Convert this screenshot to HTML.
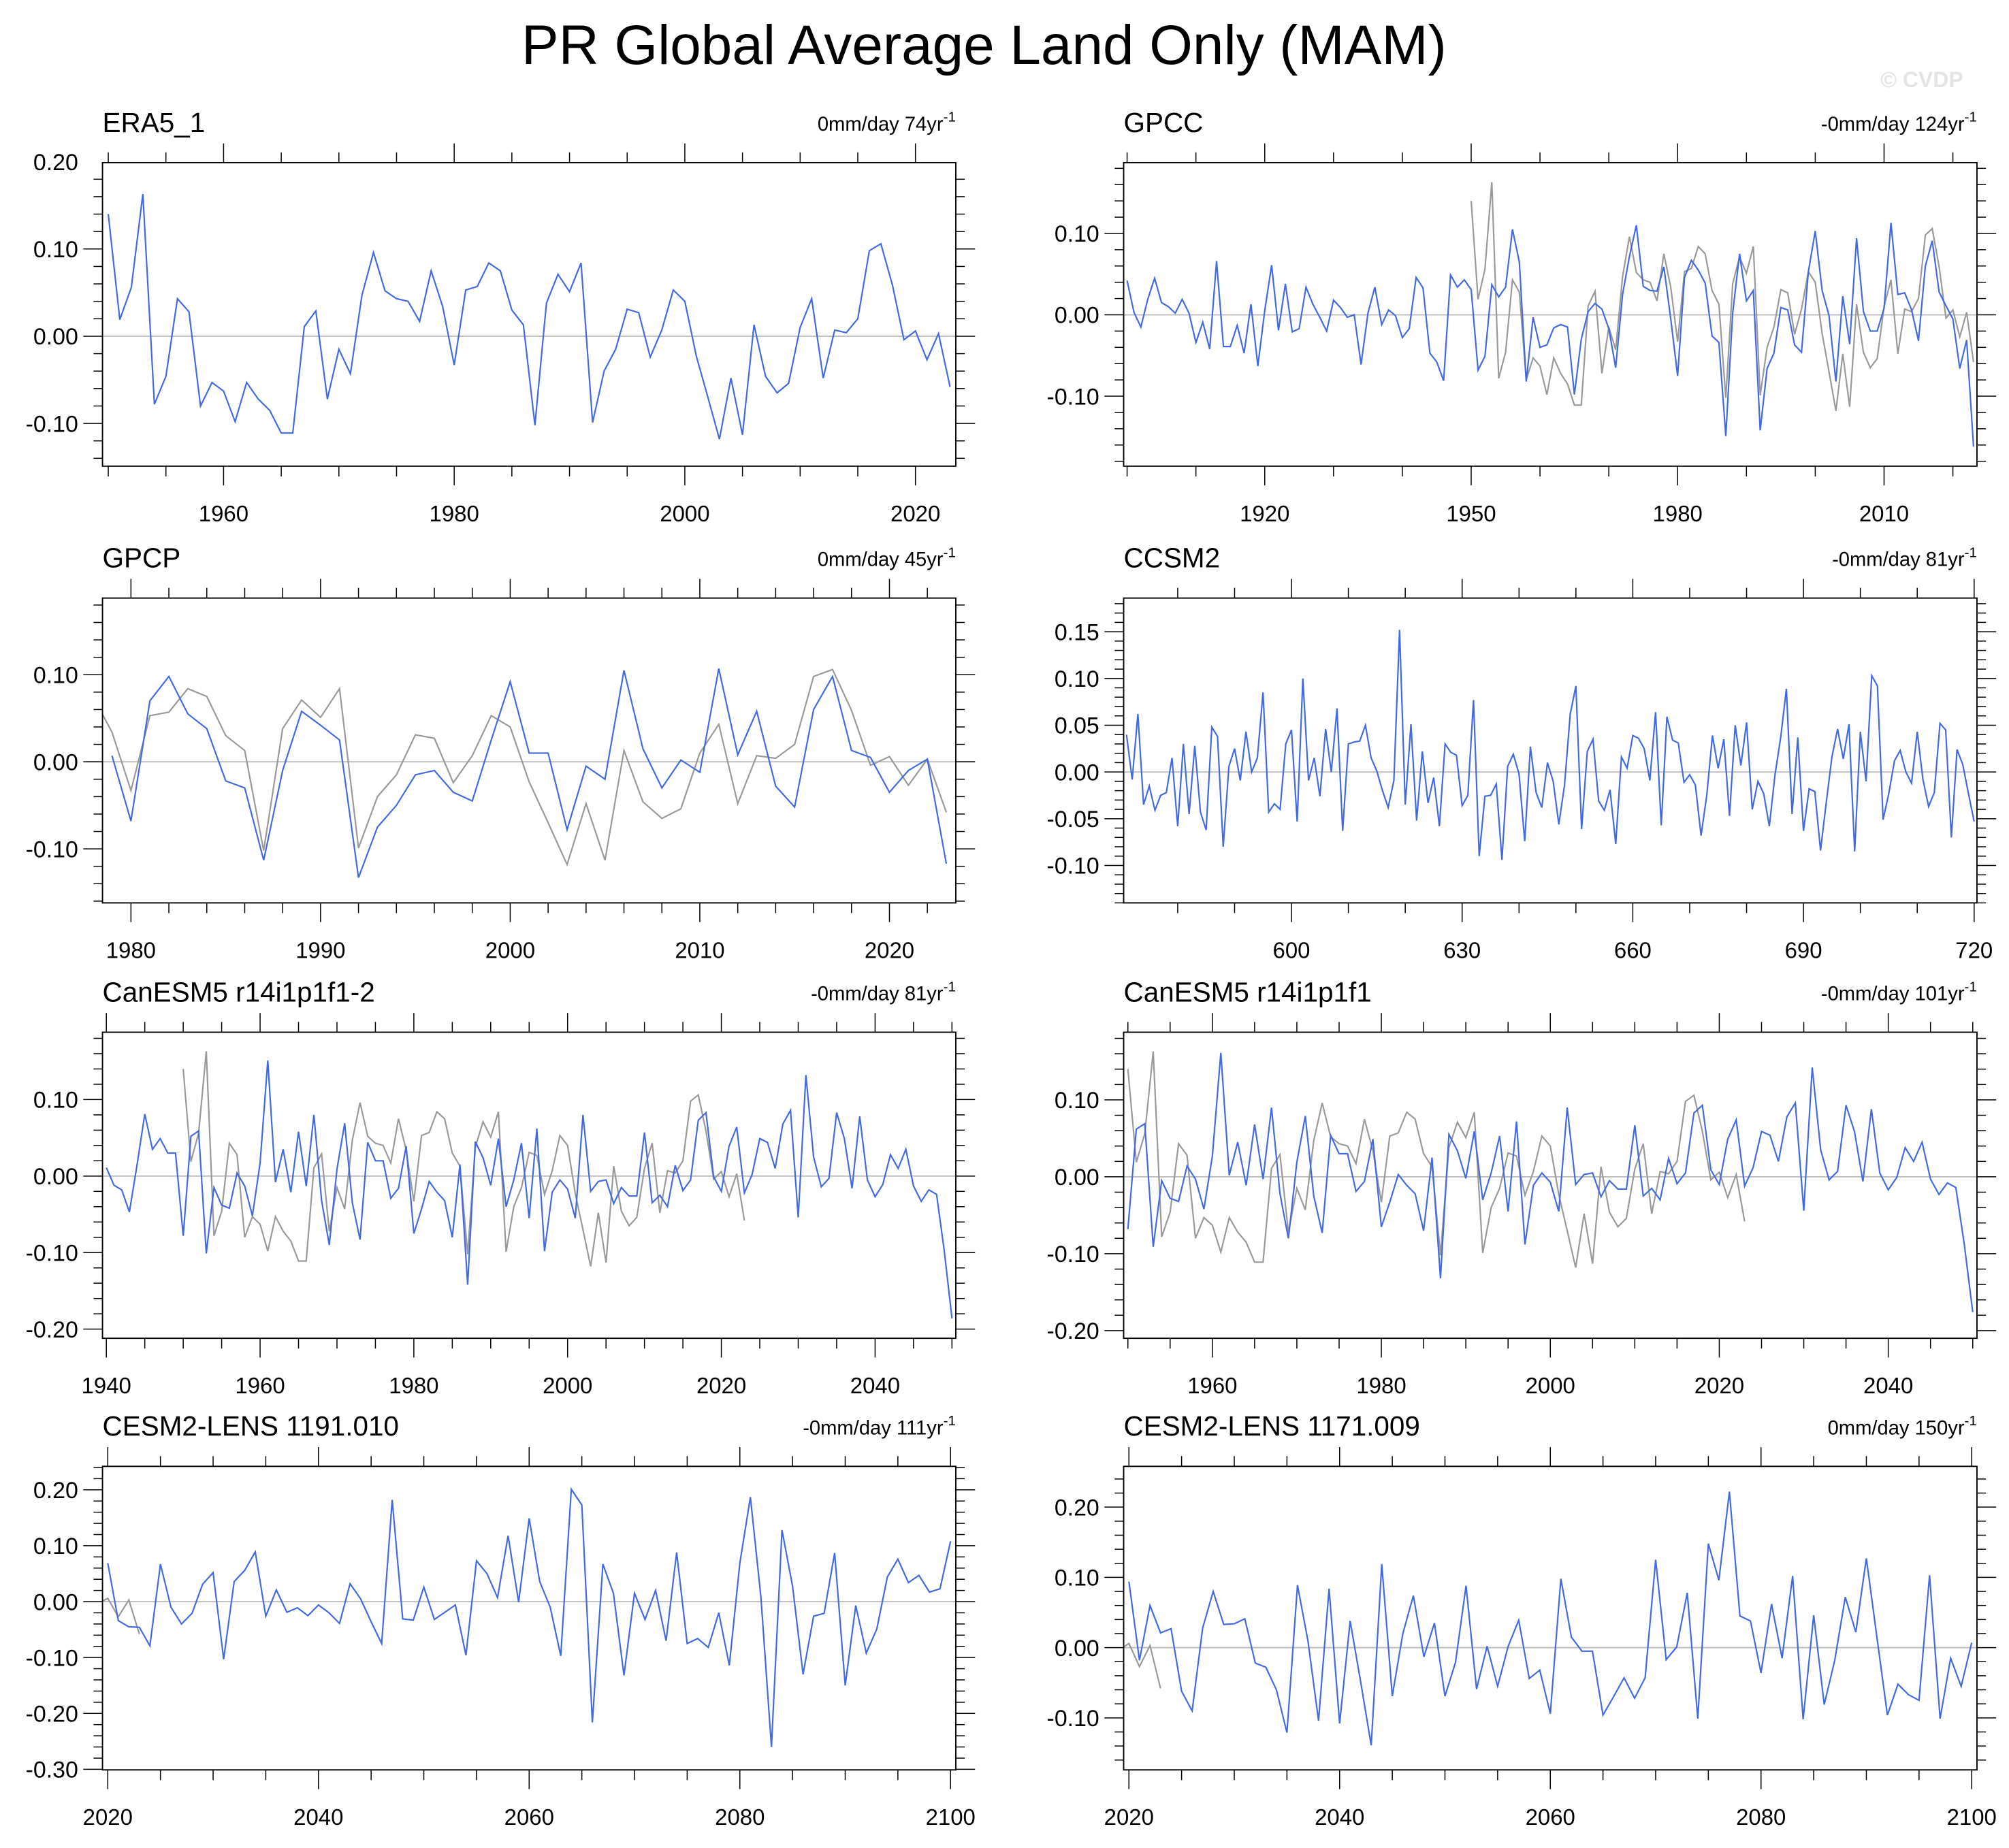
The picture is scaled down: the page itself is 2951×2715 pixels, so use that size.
<!DOCTYPE html>
<html><head><meta charset="utf-8"><title>PR Global Average Land Only (MAM)</title>
<style>html,body{margin:0;padding:0;background:#fff}svg{display:block}text{font-family:"Liberation Sans",Arial,sans-serif}</style>
</head><body>
<svg id="fig" xmlns="http://www.w3.org/2000/svg" width="2951" height="2715" viewBox="0 0 1568 1443" preserveAspectRatio="none">
<rect x="0" y="0" width="1568" height="1443" fill="#fff"/>
<text x="768" y="50" font-size="43.5" text-anchor="middle">PR Global Average Land Only (MAM)</text>
<text x="1500" y="68" font-size="17" font-weight="bold" fill="#e4e4e4" text-anchor="middle">© CVDP</text>
</svg>
<script>
const era5 = [0.140,0.019,0.056,0.163,-0.078,-0.046,0.043,0.028,-0.080,-0.053,-0.063,-0.098,-0.053,-0.072,-0.085,-0.111,-0.111,0.011,0.029,-0.072,-0.015,-0.043,0.047,0.096,0.052,0.043,0.040,0.017,0.075,0.034,-0.033,0.053,0.057,0.084,0.075,0.030,0.013,-0.102,0.038,0.071,0.051,0.084,-0.099,-0.040,-0.015,0.031,0.027,-0.024,0.007,0.053,0.040,-0.023,-0.070,-0.118,-0.048,-0.113,0.013,-0.046,-0.065,-0.054,0.010,0.043,-0.048,0.007,0.004,0.020,0.098,0.106,0.059,-0.004,0.006,-0.027,0.003,-0.058];
const era5Start = 1950;
const gpcc = [0.042,0.003,-0.015,0.019,0.045,0.015,0.010,0.002,0.019,0.002,-0.034,-0.009,-0.042,0.066,-0.039,-0.039,-0.013,-0.047,0.013,-0.063,0.005,0.061,-0.019,0.038,-0.021,-0.017,0.034,0.013,-0.003,-0.020,0.018,0.009,-0.003,0.000,-0.061,0.002,0.034,-0.012,0.006,-0.001,-0.028,-0.017,0.046,0.033,-0.047,-0.058,-0.081,0.049,0.034,0.043,0.031,-0.068,-0.051,0.037,0.022,0.034,0.105,0.065,-0.082,-0.003,-0.040,-0.037,-0.016,-0.012,-0.015,-0.098,-0.030,0.004,0.014,0.007,-0.017,-0.065,0.025,0.072,0.110,0.035,0.030,0.029,0.059,-0.005,-0.075,0.046,0.067,0.055,0.039,-0.026,-0.034,-0.149,0.002,0.075,0.017,0.030,-0.142,-0.066,-0.047,0.009,0.006,-0.037,-0.046,0.053,0.103,0.030,-0.001,-0.082,0.023,-0.036,0.094,0.004,-0.020,-0.020,0.008,0.113,0.025,0.027,0.006,-0.032,0.060,0.091,0.028,0.011,-0.005,-0.066,-0.031,-0.162];
const gpccStart = 1900;
const gpcp = [0.007,-0.068,0.070,0.098,0.055,0.038,-0.022,-0.030,-0.113,-0.010,0.058,0.042,0.025,-0.133,-0.075,-0.050,-0.015,-0.010,-0.035,-0.045,0.025,0.092,0.010,0.010,-0.078,-0.005,-0.020,0.105,0.015,-0.030,0.002,-0.012,0.107,0.008,0.058,-0.028,-0.052,0.060,0.098,0.013,0.005,-0.035,-0.010,0.003,-0.117];
const gpcpStart = 1979;
const ccsm2 = [0.040,-0.008,0.062,-0.035,-0.015,-0.041,-0.025,-0.022,0.015,-0.058,0.030,-0.045,0.028,-0.043,-0.062,0.048,0.038,-0.080,0.006,0.025,-0.009,0.043,0.000,0.015,0.085,-0.043,-0.034,-0.040,0.030,0.045,-0.053,0.100,-0.009,0.015,-0.026,0.046,0.000,0.068,-0.063,0.030,0.032,0.033,0.050,0.015,0.001,-0.020,-0.038,-0.009,0.152,-0.035,0.051,-0.052,0.022,-0.033,-0.006,-0.058,0.030,0.021,0.018,-0.036,-0.025,0.077,-0.090,-0.026,-0.025,-0.013,-0.094,0.006,0.019,-0.002,-0.074,0.027,-0.022,-0.038,0.010,-0.010,-0.056,-0.014,0.062,0.092,-0.061,0.022,0.035,-0.031,-0.041,-0.019,-0.077,0.016,0.004,0.039,0.036,0.025,-0.009,0.064,-0.057,0.059,0.034,0.031,-0.011,-0.003,-0.014,-0.068,-0.025,0.039,0.004,0.035,-0.047,0.050,0.007,0.053,-0.040,-0.010,-0.023,-0.058,-0.003,0.037,0.089,-0.045,0.037,-0.063,-0.018,-0.021,-0.084,-0.033,0.016,0.046,0.014,0.051,-0.085,0.043,-0.010,0.103,0.092,-0.051,-0.023,0.012,0.023,0.000,-0.012,0.043,-0.008,-0.037,-0.022,0.052,0.045,-0.070,0.024,0.008,-0.023,-0.053];
const ccsm2Start = 571;
const canesmB = [0.011,-0.012,-0.018,-0.047,0.015,0.081,0.035,0.049,0.030,0.030,-0.078,0.052,0.059,-0.101,-0.015,-0.038,-0.042,0.004,-0.013,-0.052,0.017,0.151,-0.008,0.035,-0.021,0.058,-0.013,0.080,-0.032,-0.090,0.009,0.069,-0.035,-0.083,0.044,0.020,0.020,-0.029,-0.016,0.039,-0.075,-0.043,-0.007,-0.021,-0.032,-0.080,0.015,-0.142,0.045,0.024,-0.012,0.049,-0.040,-0.005,0.043,-0.055,0.062,-0.098,-0.021,-0.005,-0.017,-0.055,0.080,-0.020,-0.007,-0.005,-0.036,-0.015,-0.026,-0.026,0.057,-0.035,-0.025,-0.040,0.014,-0.019,-0.005,0.073,0.083,-0.001,-0.020,0.039,0.064,-0.022,0.002,0.049,0.044,0.010,0.068,0.086,-0.054,0.132,0.025,-0.014,-0.003,0.083,0.049,-0.016,0.078,-0.005,-0.027,-0.011,0.028,0.010,0.035,-0.013,-0.033,-0.018,-0.024,-0.098,-0.186];
const canesmBStart = 1940;
const canesmA = [-0.068,0.062,0.069,-0.091,-0.005,-0.028,-0.032,0.014,-0.003,-0.042,0.027,0.161,0.002,0.045,-0.011,0.068,-0.003,0.090,-0.022,-0.080,0.019,0.079,-0.025,-0.073,0.054,0.030,0.030,-0.019,-0.006,0.049,-0.065,-0.033,0.003,-0.011,-0.022,-0.070,0.025,-0.132,0.055,0.034,-0.002,0.059,-0.030,0.005,0.053,-0.045,0.072,-0.088,-0.011,0.005,-0.007,-0.045,0.090,-0.010,0.003,0.005,-0.026,-0.005,-0.016,-0.016,0.067,-0.025,-0.015,-0.030,0.024,-0.009,0.005,0.083,0.093,0.009,-0.010,0.049,0.074,-0.012,0.012,0.059,0.054,0.020,0.078,0.096,-0.044,0.142,0.035,-0.004,0.007,0.093,0.059,-0.006,0.088,0.005,-0.017,-0.001,0.038,0.020,0.045,-0.003,-0.023,-0.008,-0.014,-0.088,-0.176];
const canesmAStart = 1950;
const cesmA = [0.069,-0.034,-0.045,-0.046,-0.079,0.067,-0.010,-0.040,-0.021,0.031,0.052,-0.103,0.036,0.056,0.089,-0.026,0.021,-0.019,-0.011,-0.025,-0.006,-0.020,-0.039,0.032,0.005,-0.036,-0.075,0.182,-0.031,-0.033,0.026,-0.032,-0.019,-0.006,-0.096,0.073,0.050,0.007,0.118,-0.001,0.149,0.036,-0.010,-0.097,0.201,0.173,-0.216,0.067,0.015,-0.132,0.015,-0.032,0.020,-0.070,0.088,-0.075,-0.066,-0.082,-0.020,-0.114,0.069,0.187,0.008,-0.260,0.128,0.028,-0.130,-0.026,-0.021,0.087,-0.150,-0.007,-0.092,-0.049,0.044,0.076,0.034,0.047,0.017,0.023,0.108];
const cesmAStart = 2020;
const cesmB = [0.094,-0.018,0.060,0.021,0.027,-0.062,-0.090,0.028,0.080,0.033,0.034,0.041,-0.022,-0.028,-0.060,-0.121,0.089,0.009,-0.104,0.084,-0.108,0.038,-0.049,-0.139,0.119,-0.069,0.020,0.074,-0.013,0.035,-0.069,-0.021,0.088,-0.059,0.002,-0.055,0.002,0.039,-0.044,-0.032,-0.094,0.098,0.015,-0.005,-0.005,-0.096,-0.070,-0.043,-0.072,-0.043,0.125,-0.017,0.001,0.078,-0.101,0.148,0.096,0.222,0.045,0.038,-0.036,0.062,-0.015,0.102,-0.102,0.046,-0.081,-0.018,0.072,0.022,0.127,0.015,-0.096,-0.052,-0.067,-0.075,0.103,-0.101,-0.015,-0.055,0.007];
const cesmBStart = 2020;

const titles = ["ERA5_1","GPCC","GPCP","CCSM2","CanESM5 r14i1p1f1-2","CanESM5 r14i1p1f1","CESM2-LENS 1191.010","CESM2-LENS 1171.009"];
const trendLabels = ["0mm/day 74yr","-0mm/day 124yr","0mm/day 45yr","-0mm/day 81yr","-0mm/day 81yr","-0mm/day 101yr","-0mm/day 111yr","0mm/day 150yr"];
const xTicks = [[1960,1980,2000,2020],[1920,1950,1980,2010],[1980,1990,2000,2010,2020],[600,630,660,690,720],[1940,1960,1980,2000,2020,2040],[1960,1980,2000,2020,2040],[2020,2040,2060,2080,2100],[2020,2040,2060,2080,2100]];
const yTicks = [[0.20,0.10,0.00,-0.10],[0.10,0.00,-0.10],[0.10,0.00,-0.10],[0.15,0.10,0.05,0.00,-0.05,-0.10],[0.10,0.00,-0.10,-0.20],[0.10,0.00,-0.10,-0.20],[0.20,0.10,0.00,-0.10,-0.20,-0.30],[0.20,0.10,0.00,-0.10]];

const NS = "http://www.w3.org/2000/svg";
const svg = document.getElementById('fig');
function mk(tag, attrs, parent){ const e=document.createElementNS(NS,tag); for(const k in attrs) e.setAttribute(k,attrs[k]); (parent||svg).appendChild(e); return e; }

const L = {x0:80,x1:746}, R = {x0:877,x1:1543};
const rows = [{y0:127,y1:364},{y0:467,y1:705},{y0:806,y1:1045},{y0:1145,y1:1382}];
const panels = [
 {c:L,r:0,xd:[1949.5,2023.5],yd:[-0.149,0.199],xm:5,ym:0.02,blue:[era5,era5Start],gray:null},
 {c:R,r:0,xd:[1899.5,2023.5],yd:[-0.186,0.187],xm:10,ym:0.02,blue:[gpcc,gpccStart],gray:[era5,era5Start]},
 {c:L,r:1,xd:[1978.5,2023.5],yd:[-0.162,0.188],xm:2,ym:0.02,blue:[gpcp,gpcpStart],gray:[era5,era5Start]},
 {c:R,r:1,xd:[570.5,720.5],yd:[-0.140,0.186],xm:10,ym:0.01,blue:[ccsm2,ccsm2Start],gray:null},
 {c:L,r:2,xd:[1939.5,2050.5],yd:[-0.212,0.188],xm:5,ym:0.02,blue:[canesmB,canesmBStart],gray:[era5,era5Start]},
 {c:R,r:2,xd:[1949.5,2050.5],yd:[-0.210,0.188],xm:5,ym:0.02,blue:[canesmA,canesmAStart],gray:[era5,era5Start]},
 {c:L,r:3,xd:[2019.5,2100.5],yd:[-0.301,0.242],xm:5,ym:0.02,blue:[cesmA,cesmAStart],gray:[era5,era5Start]},
 {c:R,r:3,xd:[2019.5,2100.5],yd:[-0.174,0.258],xm:5,ym:0.02,blue:[cesmB,cesmBStart],gray:[era5,era5Start]}
];

panels.forEach((p,i)=>{
  const x0=p.c.x0,x1=p.c.x1,y0=rows[p.r].y0,y1=rows[p.r].y1;
  const sx=v=>x0+(v-p.xd[0])/(p.xd[1]-p.xd[0])*(x1-x0);
  const sy=v=>y1-(v-p.yd[0])/(p.yd[1]-p.yd[0])*(y1-y0);
  const g=mk('g',{});
  
  
  const cp=mk('clipPath',{id:'cp'+i},g); mk('rect',{x:x0,y:y0,width:x1-x0,height:y1-y0},cp);
  const z=mk('line',{x1:x0,x2:x1,y1:sy(0),y2:sy(0),stroke:'#bdbdbd','stroke-width':1},g);
  
  
  function series(s,color,name){
    const arr=s[0],st=s[1];
    const pts=arr.map((v,k)=>sx(st+k).toFixed(2)+','+sy(v).toFixed(2)).join(' ');
    const pl=mk('polyline',{points:pts,fill:'none',stroke:color,'stroke-width':1.15,'stroke-linejoin':'miter','clip-path':'url(#cp'+i+')'},g);
    
    
  }
  if(p.gray) series(p.gray,'#999999','era5-reference-line');
  series(p.blue,'#4169e1','series-line');
  const tk=mk('g',{stroke:'#000','stroke-width':0.8},g);
  
  
  const xs=Math.ceil(p.xd[0]/p.xm)*p.xm;
  for(let v=xs; v<=p.xd[1]+1e-9; v+=p.xm){
    const X=sx(v), maj=xTicks[i].includes(Math.round(v));
    const len=maj?15:8;
    mk('line',{x1:X,x2:X,y1:y1,y2:y1+len},tk);
    mk('line',{x1:X,x2:X,y1:y0,y2:y0-len},tk);
  }
  const ys=Math.ceil(p.yd[0]/p.ym-1e-9);
  for(let k=ys; k*p.ym<=p.yd[1]+1e-9; k++){
    const v=k*p.ym, Y=sy(v);
    const maj=yTicks[i].some(t=>Math.abs(t-v)<1e-6);
    const len=maj?15:7;
    mk('line',{x1:x0,x2:x0-len,y1:Y,y2:Y},tk);
    mk('line',{x1:x1,x2:x1+len,y1:Y,y2:Y},tk);
  }
  xTicks[i].forEach(v=>{
    const t=mk('text',{x:sx(v),y:y1+43,'font-size':17.5,'text-anchor':'middle'},g);
    t.textContent=String(v);
    
    
  });
  yTicks[i].forEach(v=>{
    const t=mk('text',{x:x0-19,y:sy(v)+6.5,'font-size':18,'text-anchor':'end'},g);
    t.textContent=v.toFixed(2).replace('-0.00','0.00');
    
    
  });
  const bx=mk('rect',{x:x0,y:y0,width:x1-x0,height:y1-y0,fill:'none',stroke:'#000','stroke-width':1},g);
  
  
  const tt=mk('text',{x:x0,y:y0-24,'font-size':21.5},g);
  tt.textContent=titles[i];
  
  
  const tr=mk('text',{x:x1,y:y0-25,'font-size':15.5,'text-anchor':'end'},g);
  tr.textContent=trendLabels[i];
  
  
  const sup=mk('tspan',{'font-size':11,dy:-7},tr);
  sup.textContent='-1';
});
</script>
</body></html>
